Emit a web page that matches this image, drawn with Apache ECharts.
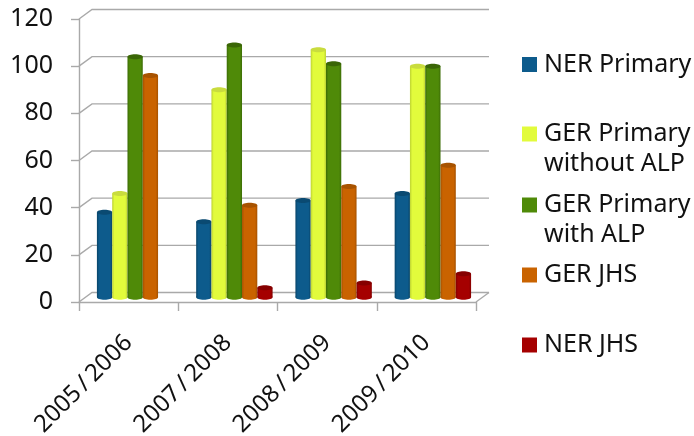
<!DOCTYPE html>
<html>
<head>
<meta charset="utf-8">
<style>html,body{margin:0;padding:0;background:#fff}#chart{width:694px;height:436px}</style>
<script src="https://cdn.jsdelivr.net/npm/echarts@6/dist/echarts.min.js"></script>
</head>
<body>
<div id="chart"></div>
<script>
// Enrolment rates per school year
const categories = ['2005/2006', '2007/2008', '2008/2009', '2009/2010'];
const nerPrimary = [36, 32, 41, 44];
const gerPrimaryWithoutAlp = [44, 88, 105, 98];
const gerPrimaryWithAlp = [102, 107, 99, 98];
const gerJhs = [94, 39, 47, 56];
const nerJhs = [null, 4, 6, 10];
const yTicks = [0, 20, 40, 60, 80, 100, 120];

const FONT = '"Noto Sans", sans-serif';
const GRID_COLOR = '#a9a9a9';
// Depth of the pseudo-3D floor and walls, in pixels
const DEPTH_X = 13, DEPTH_Y = 9.5;
const BAR_SHARE = 0.154;

const seriesDefs = [
  { name: 'NER Primary', lines: ['NER Primary'], data: nerPrimary, base: '#0d5b8c', dark: '#084468', cap: '#0a4a72', center: 64.5 },
  { name: 'GER Primary without ALP', lines: ['GER Primary', 'without ALP'], data: gerPrimaryWithoutAlp, base: '#e2fb3c', dark: '#bdd232', cap: '#c9dc3e', center: 134 },
  { name: 'GER Primary with ALP', lines: ['GER Primary', 'with ALP'], data: gerPrimaryWithAlp, base: '#4f8a08', dark: '#3c6c05', cap: '#3a6606', center: 205 },
  { name: 'GER JHS', lines: ['GER JHS'], data: gerJhs, base: '#c96300', dark: '#a55100', cap: '#a85300', center: 275 },
  { name: 'NER JHS', lines: ['NER JHS'], data: nerJhs, base: '#a50000', dark: '#850000', cap: '#860000', center: 345 }
];

// Cylinder made of a shaded body closed by a bottom and a top ellipse
function cylinderRenderer(def, index) {
  return function (params, api) {
    const value = api.value(1);
    if (value == null || isNaN(value)) return;
    const cat = api.value(0);
    const band = api.size([1, 0])[0];
    const w = band * BAR_SHARE;
    const center = api.coord([cat, 0])[0] + DEPTH_X / 2;
    const x = center + (index - 2.5) * w;
    const y0 = api.coord([cat, 0])[1] - DEPTH_Y / 2;
    const y1 = y0 - api.size([0, value])[1];
    const ry = 2.5;
    const fill = new echarts.graphic.LinearGradient(0, 0, 1, 0, [
      { offset: 0, color: def.dark },
      { offset: 0.15, color: def.base },
      { offset: 0.85, color: def.base },
      { offset: 1, color: def.dark }
    ]);
    return {
      type: 'group',
      children: [
        { type: 'ellipse', shape: { cx: x + w / 2, cy: y0, rx: w / 2, ry: ry }, style: { fill: fill } },
        { type: 'rect', shape: { x: x, y: y1, width: w, height: y0 - y1 }, style: { fill: fill } },
        { type: 'ellipse', shape: { cx: x + w / 2, cy: y1, rx: w / 2, ry: ry }, style: { fill: def.cap } }
      ]
    };
  };
}

// Wall gridlines running back from the left axis, plus the floor outline
function wallRenderer(params, api) {
  const sys = params.coordSys;
  const y = api.coord([0, api.value(0)])[1];
  const x0 = sys.x, x1 = sys.x + sys.width;
  const lineStyle = { stroke: GRID_COLOR, lineWidth: 1.4, fill: null };
  const children = [{
    type: 'polyline',
    shape: { points: [[x0, y], [x0 + DEPTH_X, y - DEPTH_Y], [x1 + DEPTH_X, y - DEPTH_Y]] },
    style: lineStyle
  }];
  if (api.value(0) === 0) {
    children.push({
      type: 'line',
      shape: { x1: x1, y1: y, x2: x1 + DEPTH_X, y2: y - DEPTH_Y },
      style: lineStyle
    });
  }
  return { type: 'group', children: children };
}

const lineHeight = 30;
const legends = seriesDefs.map(function (def) {
  // A blank first line keeps the swatch level with the first text line
  const multi = def.lines.length > 1;
  const rows = multi ? 3 : 1;
  return {
    show: true,
    orient: 'vertical',
    left: 522,
    top: def.center - rows * lineHeight / 2,
    padding: 0,
    itemWidth: 15,
    itemHeight: 15,
    itemGap: 0,
    selectedMode: false,
    icon: 'rect',
    data: [def.name],
    formatter: function () {
      return (multi ? '\n' : '') + def.lines.join('\n');
    },
    textStyle: { fontFamily: FONT, fontSize: 25, color: '#111', lineHeight: lineHeight, padding: [0, 0, 0, 2] }
  };
});

const option = {
  backgroundColor: '#fff',
  animation: false,
  legend: legends,
  grid: { left: 79, right: 218, top: 19, height: 283, outerBoundsMode: 'none' },
  xAxis: {
    type: 'category',
    data: categories,
    axisLine: { show: true, lineStyle: { color: GRID_COLOR, width: 1.4 } },
    axisTick: { show: true, length: 9, alignWithLabel: false, lineStyle: { color: GRID_COLOR, width: 1.4 } },
    axisLabel: {
      rotate: 45,
      margin: 37,
      interval: 0,
      fontFamily: FONT,
      fontSize: 24,
      color: '#111',
      hideOverlap: false,
      formatter: function (v) { return v.replace('/', '\u2009/\u2009'); }
    },
    splitLine: { show: false }
  },
  yAxis: {
    type: 'value',
    min: 0,
    max: 120,
    interval: 20,
    axisLine: { show: true, lineStyle: { color: GRID_COLOR, width: 1.4 } },
    axisTick: { show: true, length: 8, lineStyle: { color: GRID_COLOR, width: 1.4 } },
    axisLabel: { margin: 26, padding: [4, 0, 0, 0], fontFamily: FONT, fontSize: 25, color: '#111' },
    splitLine: { show: false }
  },
  series: [{
    type: 'custom',
    name: 'walls',
    silent: true,
    z: 1,
    coordinateSystem: 'cartesian2d',
    encode: { y: 0 },
    data: yTicks.map(function (v) { return [v]; }),
    renderItem: wallRenderer
  }].concat(seriesDefs.map(function (def, i) {
    return {
      type: 'custom',
      name: def.name,
      z: 2 + i,
      coordinateSystem: 'cartesian2d',
      itemStyle: { color: def.base },
      encode: { x: 0, y: 1 },
      data: def.data.map(function (v, c) { return [c, v]; }),
      renderItem: cylinderRenderer(def, i)
    };
  }))
};

const chart = echarts.init(document.getElementById('chart'), null, { renderer: 'canvas' });
chart.setOption(option);
</script>
</body>
</html>
